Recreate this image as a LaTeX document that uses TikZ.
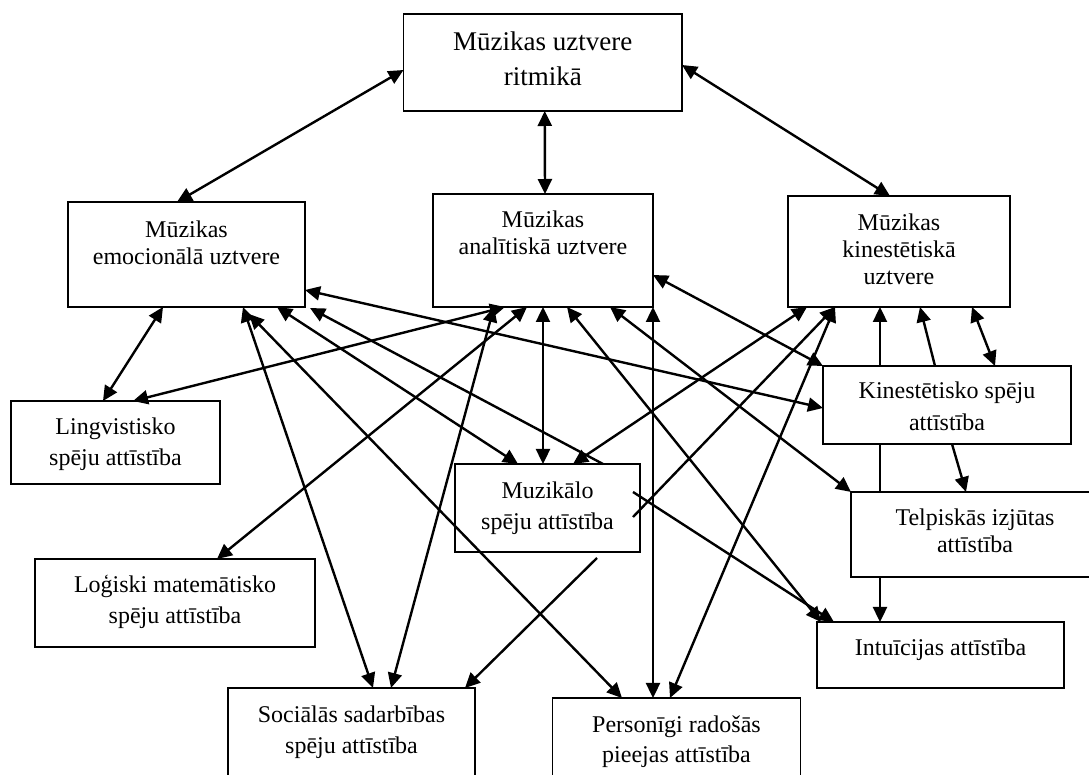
\documentclass[tikz,border=0pt]{standalone}
\usepackage{fontspec}
\setmainfont{Liberation Serif}
\usetikzlibrary{arrows.meta,calc}
\newcommand{\topstrut}{\rule{0pt}{10pt}}
\begin{document}
\begin{tikzpicture}[x=0.5pt,y=-0.5pt,
  >={Triangle[length=7.5pt,width=7pt]},
  box/.style={draw, line width=0.9pt, fill=white, rectangle, inner sep=0pt, outer sep=0pt},
  txt/.style={inner sep=0pt, anchor=north, align=center, font=\fontsize{12}{#1}\selectfont},
  txt/.default=13.5pt,
  conn/.style={line width=1.2pt}]
\useasboundingbox (0,0) rectangle (1089,775);

% box centres (pixel units, y downwards)
\path
  (542.75,62.5) coordinate (ctop)
  (186.5,254.5) coordinate (cemo)
  (543,250.5)   coordinate (cana)
  (899,251.5)   coordinate (ckin)
  (115.5,442.5) coordinate (cling)
  (947,405)     coordinate (ckinsp)
  (547.5,508)   coordinate (cmuz)
  (975,534.5)   coordinate (ctelp)
  (175,603)     coordinate (clog)
  (351.5,739)   coordinate (csoc)
  (676.5,749)   coordinate (cpers)
  (940.5,655)   coordinate (cintu);

% boxes
\node[box, minimum width=139.25pt, minimum height=48.5pt] (top)   at (ctop)   {};
\node[box, minimum width=118.5pt,  minimum height=52.5pt] (emo)   at (cemo)   {};
\node[box, minimum width=110pt,    minimum height=56.5pt] (ana)   at (cana)   {};
\node[box, minimum width=111pt,    minimum height=55.5pt] (kin)   at (ckin)   {};
\node[box, minimum width=104.5pt,  minimum height=41.5pt] (ling)  at (cling)  {};
\node[box, minimum width=124pt,    minimum height=39pt]   (kinsp) at (ckinsp) {};
\node[box, minimum width=92.5pt,   minimum height=44pt]   (muz)   at (cmuz)   {};
\node[box, minimum width=124pt,    minimum height=42.5pt] (telp)  at (ctelp)  {};
\node[box, minimum width=140pt,    minimum height=44pt]   (log)   at (clog)   {};
\node[box, minimum width=123.5pt,  minimum height=51pt]   (soc)   at (csoc)   {};
\node[box, minimum width=124pt,    minimum height=51pt]   (pers)  at (cpers)  {};
\node[box, minimum width=123.5pt,  minimum height=33pt]   (intu)  at (cintu)  {};

% texts, set from the top of each box
\node[txt=17.5pt, font=\fontsize{13.5}{17.5}\selectfont] (ttop) at ($(top.north)+(0,16)$) {\topstrut Mūzikas uztvere\\ritmikā};
\node[txt] (temo)   at ($(emo.north)+(0,15)$)   {\topstrut Mūzikas\\emocionālā uztvere};
\node[txt] (tana)   at ($(ana.north)+(0,13)$)   {\topstrut Mūzikas\\analītiskā uztvere};
\node[txt] (tkin)   at ($(kin.north)+(0,14)$)   {\topstrut Mūzikas\\kinestētiskā\\uztvere};
\node[txt=15.5pt] (tling)  at ($(ling.north)+(0,13)$)  {\topstrut Lingvistisko\\spēju attīstība};
\node[txt=16pt]   (tkinsp) at ($(kinsp.north)+(0,12)$) {\topstrut Kinestētisko spēju\\attīstība};
\node[txt=15.5pt] (tmuz)   at ($(muz.north)+(0,14)$)   {\topstrut Muzikālo\\spēju attīstība};
\node[txt]        (ttelp)  at ($(telp.north)+(0,13)$)  {\topstrut Telpiskās izjūtas\\attīstība};
\node[txt=15.5pt] (tlog)   at ($(log.north)+(0,13)$)   {\topstrut Loģiski matemātisko\\spēju attīstība};
\node[txt=15.5pt] (tsoc)   at ($(soc.north)+(0,14)$)   {\topstrut Sociālās sadarbības\\spēju attīstība};
\node[txt=15pt]   (tpers)  at ($(pers.north)+(0,14)$)  {\topstrut Personīgi radošās\\pieejas attīstība};
\node[txt]        (tintu)  at ($(intu.north)+(0,13)$)  {\topstrut Intuīcijas attīstība};

% connectors
\draw[conn,<->] ($(top.west)+(0,7.5)$) -- ($(emo.north west)+(109,0)$);
\draw[conn,<->] ($(top.south)+(2,0)$) -- ($(ana.north)+(2,0)$);
\draw[conn,<->] ($(top.east)+(0,2.5)$) -- ($(kin.north west)+(102,0)$);
\draw[conn,<->] ($(emo.south west)+(95,0)$) -- ($(ling.north west)+(92,0)$);
\draw[conn,<->] ($(ling.north west)+(122,0)$) -- ($(ana.south west)+(72,0)$);
\draw[conn,<->] ($(emo.east)+(0,35.5)$) -- ($(kinsp.west)+(0,3)$);
\draw[conn,<->] ($(emo.south west)+(175,0)$) -- ($(soc.north west)+(145,0)$);
\draw[conn,<->] ($(emo.south west)+(181,7)$) -- ($(pers.north west)+(69.5,0)$);
\draw[conn,<->] ($(emo.south west)+(209,0)$) -- ($(muz.north west)+(63,0)$);
\draw[conn,<-]  ($(emo.south east)+(5,1)$) -- ($(muz.north west)+(148,0)$);
\draw[conn,<->] ($(ana.south west)+(61,0)$) -- ($(soc.north west)+(163,0)$);
\draw[conn,<->] ($(ana.south west)+(94,0)$) -- ($(log.north west)+(182,0)$);
\draw[conn,<->] (ana.south) -- (ana.south |- muz.north);
\draw[conn,<->] ($(ana.south west)+(134,0)$) -- ($(intu.north west)+(4,0)$);
\draw[conn,<->] ($(ana.south west)+(177,0)$) -- (telp.north west);
\draw[conn,<->] (ana.south east) -- (ana.south east |- pers.north);
\draw[conn,<->] ($(ana.east)+(0,24.5)$) -- (kinsp.north west);
\draw[conn,<->] ($(kin.south west)+(19,0)$) -- ($(muz.north west)+(118,0)$);
\draw[conn,<-]  ($(kin.south west)+(47,0)$) -- ($(muz.east)+(-7,9)$);
\draw[conn,->]  ($(muz.south west)+(142,6)$) -- ($(soc.north west)+(237,0)$);
\draw[conn,<->] ($(kin.south west)+(47,0)$) -- ($(pers.north west)+(117.5,0)$);
\draw[conn,->]  ($(kinsp.north west)+(112,0)$) -- ($(kin.south west)+(132,0)$);
\draw[conn,<->] ($(kin.south west)+(184,0)$) -- ($(kinsp.north west)+(172,0)$);
\draw[conn,->]  ($(kinsp.south west)+(129,0)$) -- ($(telp.north west)+(115,0)$);
\draw[conn,->]  ($(muz.east)+(-7,-16)$) -- ($(intu.north west)+(17,0)$);
% the vertical at x = 880, broken by the boxes it passes
\draw[conn,<-]  ($(kin.south west)+(92,0)$) -- ($(kinsp.north west)+(57,0)$);
\draw[conn]     ($(kinsp.south west)+(57,0)$) -- ($(telp.north west)+(29,0)$);
\draw[conn,->]  ($(telp.south west)+(29,0)$) -- ($(intu.north west)+(63,0)$);
\end{tikzpicture}
\end{document}
